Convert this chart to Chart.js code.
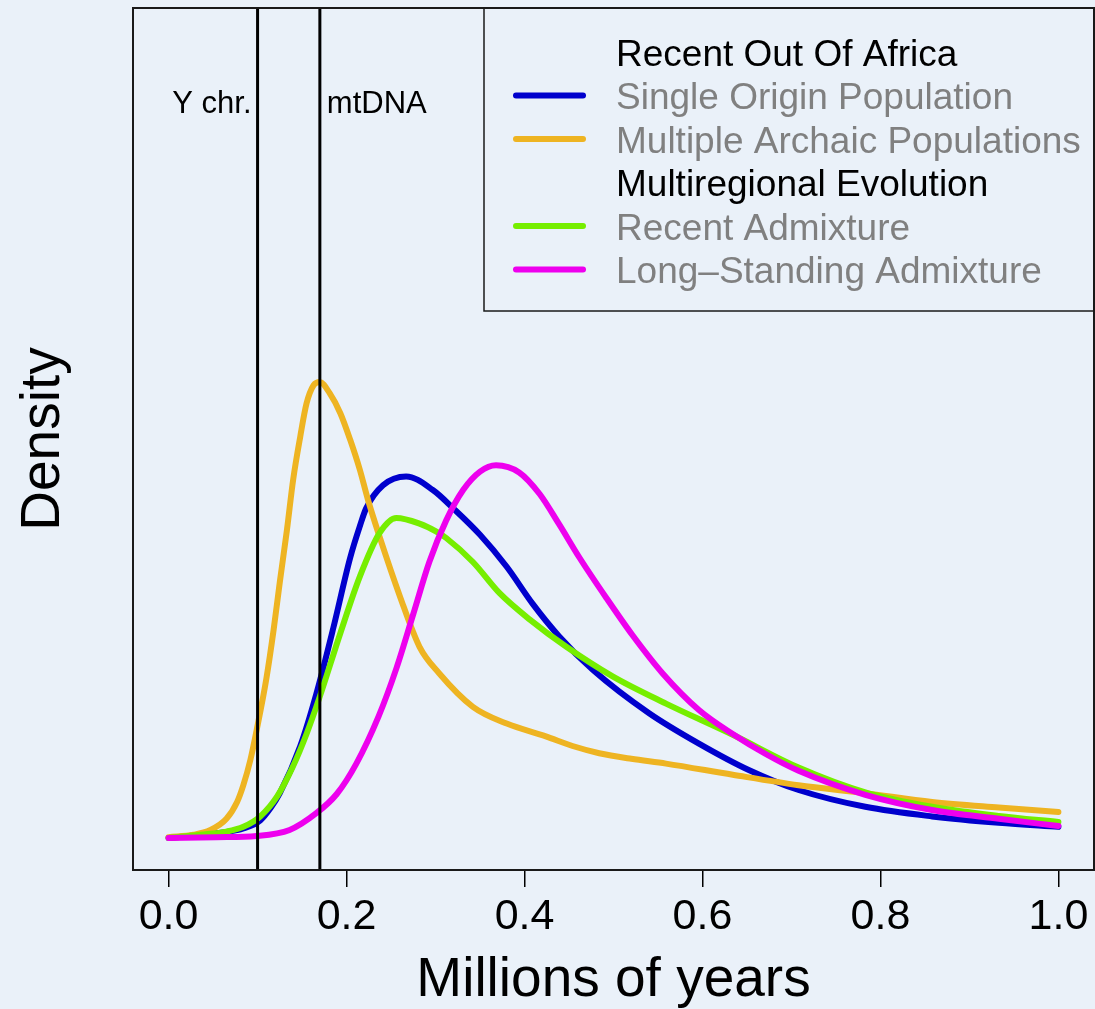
<!DOCTYPE html>
<html>
<head>
<meta charset="utf-8">
<title>Density of divergence times</title>
<script src="https://cdn.jsdelivr.net/npm/chart.js@4/dist/chart.umd.min.js"></script>
<style>
  html, body { margin: 0; padding: 0; background: #EAF1F9; }
  #wrap { width: 1095px; height: 1009px; }
</style>
</head>
<body>
<div id="wrap"><canvas id="chart" width="1095" height="1009"></canvas></div>
<script>
// Time axis (millions of years) and density estimates for each model
const tickValues = [0.0, 0.2, 0.4, 0.6, 0.8, 1.0];
const tickLabels = ["0.0", "0.2", "0.4", "0.6", "0.8", "1.0"];

const singleOriginX = [0, 0.036, 0.065, 0.084, 0.103, 0.115, 0.125, 0.148, 0.166, 0.185, 0.204, 0.215, 0.222, 0.241, 0.267, 0.297, 0.320, 0.350, 0.380, 0.409, 0.439, 0.477, 0.540, 0.596, 0.652, 0.708, 0.783, 0.858, 0.933, 1.0];
const singleOriginY = [0, 0.04, 0.075, 0.12, 0.22, 0.38, 0.56, 1.15, 1.80, 2.62, 3.50, 3.90, 4.12, 4.41, 4.52, 4.35, 4.12, 3.79, 3.39, 2.93, 2.52, 2.10, 1.56, 1.18, 0.85, 0.60, 0.39, 0.27, 0.19, 0.14];

const archaicX = [0, 0.028, 0.047, 0.065, 0.077, 0.084, 0.092, 0.099, 0.110, 0.118, 0.125, 0.133, 0.140, 0.148, 0.155, 0.163, 0.170, 0.181, 0.193, 0.204, 0.215, 0.224, 0.237, 0.260, 0.282, 0.304, 0.342, 0.380, 0.424, 0.454, 0.484, 0.520, 0.559, 0.634, 0.708, 0.783, 0.858, 0.933, 1.0];
const archaicY = [0.01, 0.04, 0.10, 0.24, 0.45, 0.66, 0.98, 1.35, 2.00, 2.60, 3.20, 3.85, 4.48, 5.02, 5.43, 5.66, 5.70, 5.56, 5.31, 4.98, 4.60, 4.23, 3.77, 3.02, 2.39, 2.06, 1.64, 1.43, 1.27, 1.15, 1.06, 0.99, 0.93, 0.79, 0.66, 0.56, 0.45, 0.38, 0.325];

const recentAdmixX = [0, 0.036, 0.065, 0.084, 0.103, 0.122, 0.140, 0.155, 0.170, 0.193, 0.215, 0.237, 0.256, 0.282, 0.301, 0.312, 0.342, 0.372, 0.406, 0.447, 0.499, 0.559, 0.634, 0.708, 0.783, 0.858, 0.933, 1.0];
const recentAdmixY = [0, 0.04, 0.08, 0.14, 0.27, 0.52, 0.90, 1.30, 1.77, 2.56, 3.27, 3.81, 4.00, 3.93, 3.83, 3.75, 3.45, 3.06, 2.73, 2.39, 2.02, 1.68, 1.29, 0.88, 0.57, 0.39, 0.275, 0.20];

const longStandingX = [0, 0.054, 0.099, 0.136, 0.166, 0.189, 0.211, 0.236, 0.256, 0.275, 0.293, 0.312, 0.331, 0.350, 0.368, 0.394, 0.417, 0.439, 0.462, 0.492, 0.521, 0.555, 0.596, 0.634, 0.671, 0.708, 0.783, 0.858, 0.933, 1.0];
const longStandingY = [0, 0.01, 0.025, 0.10, 0.31, 0.55, 0.93, 1.52, 2.12, 2.80, 3.45, 3.97, 4.35, 4.58, 4.66, 4.57, 4.30, 3.92, 3.50, 3.00, 2.54, 2.06, 1.60, 1.30, 1.05, 0.84, 0.54, 0.35, 0.24, 0.15];

// Vertical reference lines for the Y-chromosome and mtDNA estimates
const markerX = [0.1, 0.17];
const markerLabels = ["Y chr.", "mtDNA"];

const seriesNames = ["Single Origin Population", "Multiple Archaic Populations", "Recent Admixture", "Long\u2013Standing Admixture"];
const seriesColors = ["#0000CD", "#EEB422", "#76EE00", "#EE00EE"];
const groupNames = ["Recent Out Of Africa", "Multiregional Evolution"];

const FONT = '"Liberation Sans", Arial, Helvetica, sans-serif';
const BG = '#EAF1F9';

function pts(xs, ys) { return xs.map((x, i) => ({ x: x, y: ys[i] })); }

function lineSet(label, xs, ys, color, order) {
  return {
    label: label,
    data: pts(xs, ys),
    borderColor: color,
    backgroundColor: color,
    borderWidth: 6,
    pointRadius: 0,
    fill: false,
    cubicInterpolationMode: 'monotone',
    borderCapStyle: 'round',
    borderJoinStyle: 'round',
    order: order
  };
}

const backgroundPlugin = {
  id: 'bg',
  beforeDraw(chart) {
    const ctx = chart.ctx;
    ctx.save();
    ctx.fillStyle = BG;
    ctx.fillRect(0, 0, chart.width, chart.height);
    ctx.restore();
  }
};

const markerPlugin = {
  id: 'markers',
  afterDatasetsDraw(chart) {
    const ctx = chart.ctx;
    const area = chart.chartArea;
    const xs = chart.scales.x;
    ctx.save();
    ctx.strokeStyle = '#000';
    ctx.lineWidth = 3;
    ctx.fillStyle = '#000';
    ctx.font = '31px ' + FONT;
    ctx.textBaseline = 'alphabetic';
    markerX.forEach((v, i) => {
      const px = xs.getPixelForValue(v);
      ctx.beginPath();
      ctx.moveTo(px, area.top);
      ctx.lineTo(px, area.bottom);
      ctx.stroke();
      if (i === 0) {
        ctx.textAlign = 'right';
        ctx.fillText(markerLabels[i], px - 6, 113);
      } else {
        ctx.textAlign = 'left';
        ctx.fillText(markerLabels[i], px + 7, 113);
      }
    });
    ctx.restore();
  }
};

const framePlugin = {
  id: 'frame',
  afterDraw(chart) {
    const ctx = chart.ctx;
    const a = chart.chartArea;
    ctx.save();
    ctx.strokeStyle = '#1a1a1a';
    ctx.lineWidth = 2;
    ctx.strokeRect(a.left, a.top, a.right - a.left, a.bottom - a.top);

    // legend box with group headings
    const boxLeft = 484, boxBottom = 311;
    ctx.lineWidth = 1.5;
    ctx.strokeRect(boxLeft, a.top, a.right - boxLeft, boxBottom - a.top);

    const rows = [
      { text: groupNames[0], header: true },
      { text: seriesNames[0], color: seriesColors[0] },
      { text: seriesNames[1], color: seriesColors[1] },
      { text: groupNames[1], header: true },
      { text: seriesNames[2], color: seriesColors[2] },
      { text: seriesNames[3], color: seriesColors[3] }
    ];
    ctx.font = '37px ' + FONT;
    ctx.textAlign = 'left';
    ctx.textBaseline = 'alphabetic';
    ctx.lineCap = 'round';
    rows.forEach((r, i) => {
      const cy = 52 + i * 43.5;
      if (!r.header) {
        ctx.strokeStyle = r.color;
        ctx.lineWidth = 6;
        ctx.beginPath();
        ctx.moveTo(516, cy);
        ctx.lineTo(583, cy);
        ctx.stroke();
      }
      ctx.fillStyle = r.header ? '#000' : '#808080';
      ctx.fillText(r.text, 616, cy + 13.5);
    });
    ctx.restore();
  }
};

new Chart(document.getElementById('chart'), {
  type: 'line',
  data: {
    datasets: [
      lineSet(seriesNames[0], singleOriginX, singleOriginY, seriesColors[0], 3),
      lineSet(seriesNames[1], archaicX, archaicY, seriesColors[1], 2),
      lineSet(seriesNames[2], recentAdmixX, recentAdmixY, seriesColors[2], 1),
      lineSet(seriesNames[3], longStandingX, longStandingY, seriesColors[3], 0)
    ]
  },
  options: {
    responsive: false,
    animation: false,
    devicePixelRatio: 1,
    layout: { padding: { left: 0, right: 1, top: 8, bottom: 0 } },
    plugins: { legend: { display: false }, tooltip: { enabled: false } },
    scales: {
      x: {
        type: 'linear',
        min: -0.04,
        max: 1.04,
        afterBuildTicks(s) { s.ticks = tickValues.map(v => ({ value: v })); },
        afterFit(s) { s.height = 139; },
        ticks: {
          callback: (v, i) => tickLabels[i],
          font: { family: FONT, size: 43 },
          color: '#000',
          padding: 4,
          maxRotation: 0,
          autoSkip: false
        },
        grid: { drawOnChartArea: false, drawTicks: true, tickLength: 17, color: '#000', lineWidth: 1.5 },
        border: { display: false },
        title: {
          display: true,
          text: 'Millions of years',
          color: '#000',
          font: { family: FONT, size: 55, lineHeight: 1 },
          padding: { top: 0, bottom: 1 }
        }
      },
      y: {
        min: -0.4,
        max: 10.375,
        afterFit(s) { s.width = 133; },
        ticks: { display: false },
        grid: { display: false },
        border: { display: false },
        title: {
          display: true,
          text: 'Density',
          color: '#000',
          font: { family: FONT, size: 55, lineHeight: 1 },
          padding: { top: 16, bottom: 0 }
        }
      }
    }
  },
  plugins: [backgroundPlugin, markerPlugin, framePlugin]
});
</script>
</body>
</html>
